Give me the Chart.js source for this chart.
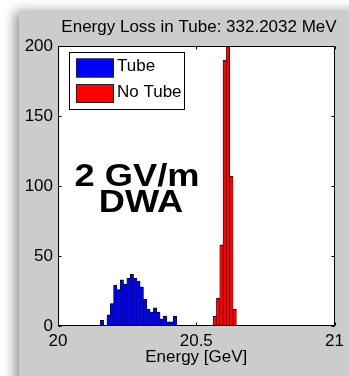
<!DOCTYPE html>
<html>
<head>
<meta charset="utf-8">
<script src="https://cdn.jsdelivr.net/npm/chart.js@4/dist/chart.umd.min.js"></script>
<style>
  html, body { margin: 0; padding: 0; width: 349px; height: 376px; overflow: hidden; background: #ffffff; }
  #panel { position: absolute; left: 19px; top: 11px; width: 345px; height: 380px; background: #cccccc;
           box-shadow: -4px 1px 12px rgba(0, 0, 0, 0.45); }
  #wrap { position: absolute; left: 0; top: 0; width: 349px; height: 376px; }
</style>
</head>
<body>
<div id="panel"></div>
<div id="wrap"><canvas id="c" width="349" height="376"></canvas></div>
<script>
// Histogram of final beam energy, with and without the dielectric tube
const titleText = 'Energy Loss in Tube: 332.2032 MeV';
const xAxisLabel = 'Energy [GeV]';
const annotationLines = ['2 GV/m', 'DWA'];
const seriesNames = ['Tube', 'No Tube'];

// bin centres [GeV] and counts
const tubeEnergy = [20.159, 20.171, 20.183, 20.195, 20.207, 20.219, 20.231, 20.243, 20.255, 20.267,
                    20.279, 20.291, 20.303, 20.315, 20.327, 20.339, 20.351, 20.363, 20.375, 20.387,
                    20.399, 20.411, 20.423];
const tubeCounts = [4, 0, 8, 16, 29, 26, 33, 30, 34, 37,
                    34, 32, 28, 19, 12, 10, 13, 10, 5, 7,
                    3, 3, 7];
const noTubeEnergy = [20.567, 20.579, 20.591, 20.603, 20.615, 20.627, 20.639];
const noTubeCounts = [7, 20, 58, 190, 200, 107, 12];

const xTicks = [20, 20.5, 21];
const yTicks = [0, 50, 100, 150, 200];

const FONT = '"Liberation Sans", Arial, Helvetica, sans-serif';
Chart.defaults.font.family = FONT;
Chart.defaults.color = '#000000';

const toPoints = (xs, ys) => xs.map((x, i) => ({ x: x, y: ys[i] }));

// axes box, inward tick marks, legend, title and annotation text
const decor = {
  id: 'decor',
  beforeDatasetsDraw(chart) {
    const { ctx, chartArea: a } = chart;
    ctx.save();
    ctx.fillStyle = '#ffffff';
    ctx.fillRect(a.left, a.top, a.right - a.left, a.bottom - a.top);
    ctx.restore();
  },
  afterDatasetsDraw(chart) {
    const { ctx, chartArea: a, scales } = chart;
    ctx.save();
    ctx.strokeStyle = '#000000';
    ctx.lineWidth = 1;
    const L = Math.round(a.left) + 0.5, R = Math.round(a.right) - 0.5;
    const T = Math.round(a.top) + 0.5, B = Math.round(a.bottom) - 0.5;
    ctx.strokeRect(L, T, R - L, B - T);

    const tl = 3;
    ctx.beginPath();
    scales.x.ticks.forEach(t => {
      const px = Math.round(scales.x.getPixelForValue(t.value)) + 0.5;
      ctx.moveTo(px, B); ctx.lineTo(px, B - tl);
      ctx.moveTo(px, T); ctx.lineTo(px, T + tl);
    });
    scales.y.ticks.forEach(t => {
      const py = Math.round(scales.y.getPixelForValue(t.value)) + 0.5;
      ctx.moveTo(L, py); ctx.lineTo(L + tl, py);
      ctx.moveTo(R, py); ctx.lineTo(R - tl, py);
    });
    ctx.stroke();

    // legend
    ctx.fillStyle = '#ffffff';
    ctx.fillRect(69.5, 52.5, 115, 57);
    ctx.strokeRect(69.5, 52.5, 115, 57);
    const ds = chart.data.datasets;
    const rows = [58.5, 84];
    ctx.font = '17px ' + FONT;
    ctx.textAlign = 'left';
    ctx.textBaseline = 'alphabetic';
    ds.forEach((d, i) => {
      ctx.fillStyle = d.backgroundColor;
      ctx.fillRect(76, rows[i], 38, 19);
      ctx.strokeStyle = '#222222';
      ctx.strokeRect(76.5, rows[i] + 0.5, 37, 18);
      ctx.fillStyle = '#000000';
      ctx.fillText(d.label, 117, rows[i] + 12.5);
    });

    // annotation
    ctx.font = 'bold 31px ' + FONT;
    ctx.textAlign = 'center';
    ctx.fillStyle = '#000000';
    [[137, 185.7], [141, 211.7]].forEach((p, i) => {
      ctx.save();
      ctx.translate(p[0], p[1]);
      ctx.scale(1.17, 1);
      ctx.fillText(annotationLines[i], 0, 0);
      ctx.restore();
    });

    // title
    ctx.font = '17px ' + FONT;
    ctx.fillText(titleText, 199, 32.3);
    ctx.restore();
  }
};

new Chart(document.getElementById('c'), {
  type: 'bar',
  data: {
    datasets: [
      { label: seriesNames[0], data: toPoints(tubeEnergy, tubeCounts),
        backgroundColor: '#0000ff', borderColor: '#000000',
        borderWidth: { top: 1, left: 0.6, right: 0.6, bottom: 0 } },
      { label: seriesNames[1], data: toPoints(noTubeEnergy, noTubeCounts),
        backgroundColor: '#ff0000', borderColor: '#000000',
        borderWidth: { top: 1, left: 0.6, right: 0.6, bottom: 0 } }
    ]
  },
  options: {
    responsive: false,
    animation: false,
    devicePixelRatio: 1,
    grouped: false,
    barPercentage: 1,
    categoryPercentage: 1,
    layout: { padding: { top: 46, right: 12, left: 0, bottom: 0 } },
    plugins: { legend: { display: false }, tooltip: { enabled: false } },
    scales: {
      x: {
        type: 'linear', min: 20, max: 21, offset: false,
        afterBuildTicks(s) { s.ticks = xTicks.map(v => ({ value: v })); },
        afterFit(s) { s.height = 50; },
        grid: { display: false, drawTicks: false },
        border: { display: false },
        ticks: { font: { size: 17 }, color: '#000000', padding: 5, maxRotation: 0,
                 callback: v => String(v) },
        title: { display: true, text: xAxisLabel, font: { size: 17 }, color: '#000000',
                 padding: { top: 0, bottom: 8 } }
      },
      y: {
        type: 'linear', min: 0, max: 200,
        afterBuildTicks(s) { s.ticks = yTicks.map(v => ({ value: v })); },
        afterFit(s) { s.width = 58; },
        grid: { display: false, drawTicks: false },
        border: { display: false },
        ticks: { font: { size: 17 }, color: '#000000', padding: 5, callback: v => String(v) }
      }
    }
  },
  plugins: [decor]
});
</script>
</body>
</html>
